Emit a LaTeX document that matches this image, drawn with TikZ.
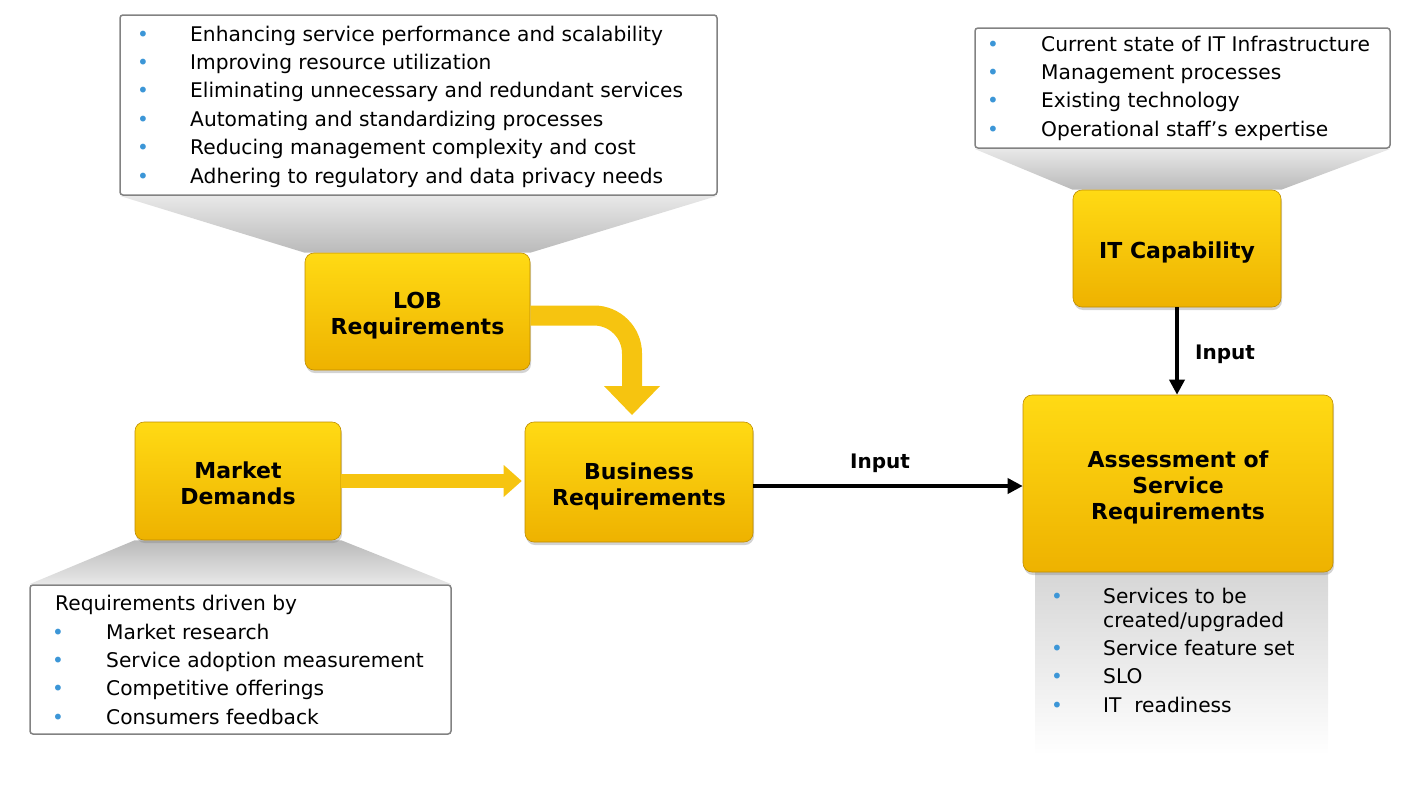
\documentclass[tikz,border=0pt]{standalone}
\usepackage{fontspec}
\setmainfont{DejaVu Sans}
\usetikzlibrary{arrows.meta,shadows,backgrounds,calc}
\definecolor{ytop}{RGB}{255,218,20}
\definecolor{ybot}{RGB}{238,178,0}
\definecolor{yedge}{RGB}{190,140,0}
\definecolor{yarr}{RGB}{246,196,16}
\definecolor{bulc}{RGB}{60,150,215}
\definecolor{boxline}{RGB}{130,130,130}
\newcommand{\ytxt}[1]{\raisebox{-5pt}[\height][\depth]{\begin{tabular}{@{}c@{}}#1\end{tabular}}}
\tikzset{
 ybox/.style={rounded corners=9pt, draw=yedge, line width=0.6pt, top color=ytop, bottom color=ybot,
   align=center, inner sep=0pt, font=\bfseries\fontsize{22}{26}\selectfont,
   drop shadow={opacity=0.35, shadow xshift=1pt, shadow yshift=-3pt}},
 lbox/.style={draw=boxline, line width=1.5pt, rounded corners=3pt, fill=white, inner sep=0pt},
 item/.style={anchor=base west, inner sep=0pt, font=\fontsize{20.2}{24}\selectfont},
 bul/.style={anchor=base, inner sep=0pt, text=bulc, font=\fontsize{20}{22}\selectfont},
 karrow/.style={draw=black, line width=3.5pt, -{Triangle[length=15pt,width=15pt]}},
 lbl/.style={font=\bfseries\fontsize{20}{24}\selectfont, inner sep=0pt},
}
\begin{document}
\begin{tikzpicture}[x=1pt,y=-1pt]
\useasboundingbox (0,0) rectangle (1415,787);

% list boxes
\node[lbox, minimum width=597pt, minimum height=180pt] (lobl) at (418.5,105) {};
\node[lbox, minimum width=415pt, minimum height=120pt] (itl) at (1182.5,88) {};
\node[lbox, minimum width=421pt, minimum height=149pt] (mdl) at (240.5,659.5) {};
\node[inner sep=0pt, minimum width=293pt, minimum height=183pt, top color=black!16, bottom color=white] (panel) at (1181.5,663.5) {};

% yellow boxes
\node[ybox, minimum width=225pt, minimum height=117pt] (lob) at (417.5,311.5) {\ytxt{LOB\\Requirements}};
\node[ybox, minimum width=206pt, minimum height=118pt] (md) at (238,481) {\ytxt{Market\\Demands}};
\node[ybox, minimum width=228pt, minimum height=120pt] (bus) at (639,482) {\ytxt{Business\\Requirements}};
\node[ybox, minimum width=310pt, minimum height=177pt] (asr) at (1178,483.5) {\ytxt{Assessment of\\Service\\Requirements}};
\node[ybox, minimum width=208pt, minimum height=117pt] (itc) at (1177,248.5) {\ytxt{IT Capability}};

% callout trapezoids
\begin{pgfonlayer}{background}
\shade[top color=black!9, bottom color=black!27] (lobl.south west) -- (lobl.south east) -- (lob.north east) -- (lob.north west) -- cycle;
\shade[top color=black!9, bottom color=black!27] (itl.south west) -- (itl.south east) -- (itc.north east) -- (itc.north west) -- cycle;
\shade[top color=black!27, bottom color=black!9] (md.south west) -- (md.south east) -- (mdl.north east) -- (mdl.north west) -- cycle;
\end{pgfonlayer}

% list texts
\foreach \t [count=\i] in {Enhancing service performance and scalability,Improving resource utilization,Eliminating unnecessary and redundant services,Automating and standardizing processes,Reducing management complexity and cost,Adhering to regulatory and data privacy needs}{
  \node[bul] (lb\i) at (143,{41+28.4*(\i-1)}) {•};
  \node[item] (lt\i) at (190,{41+28.4*(\i-1)}) {\t};
}
\foreach \t [count=\i] in {Current state of IT Infrastructure,Management processes,Existing technology,Operational staff’s expertise}{
  \node[bul] (ib\i) at (993,{51+28.4*(\i-1)}) {•};
  \node[item] (it\i) at (1041,{51+28.4*(\i-1)}) {\t};
}
\node[item] (mhead) at (55,610) {Requirements driven by};
\foreach \t [count=\i] in {Market research,Service adoption measurement,Competitive offerings,Consumers feedback}{
  \node[bul] (mb\i) at (58,{639+28.4*(\i-1)}) {•};
  \node[item] (mt\i) at (106,{639+28.4*(\i-1)}) {\t};
}
\node[bul] (pb1) at (1057,603) {•};
\node[item] (pt1) at (1103,603) {Services to be};
\node[item] (pt1b) at (1103,627) {created/upgraded};
\node[bul] (pb2) at (1057,655) {•};
\node[item] (pt2) at (1103,655) {Service feature set};
\node[bul] (pb3) at (1057,683) {•};
\node[item] (pt3) at (1103,683) {SLO};
\node[bul] (pb4) at (1057,712) {•};
\node[item] (pt4) at (1103,712) {IT\ \ readiness};

% yellow arrows
\coordinate (lobout) at ($(lob.east)+(0,4)$);
\coordinate (lobbend) at (632,315.5);
\coordinate (bustop) at (632,415);
\draw[draw=yarr, line width=20pt, rounded corners=38pt, -{Triangle[width=56pt,length=29pt,line width=0pt]}]
  (lobout) -- (lobbend) -- (bustop);
\draw[draw=yarr, line width=14pt, shorten >=3pt, -{Triangle[width=32pt,length=18pt,line width=0pt]}]
  (md.east) -- (md.east -| bus.west);

% black arrows
\draw[karrow] ([yshift=-4pt]bus.east) -- ([yshift=-4pt]bus.east -| asr.west);
\node[lbl] (in1) at (880,463) {Input};
\draw[karrow] (itc.south) -- (itc.south |- asr.north);
\node[lbl] (in2) at (1225,354) {Input};
\end{tikzpicture}
\end{document}
